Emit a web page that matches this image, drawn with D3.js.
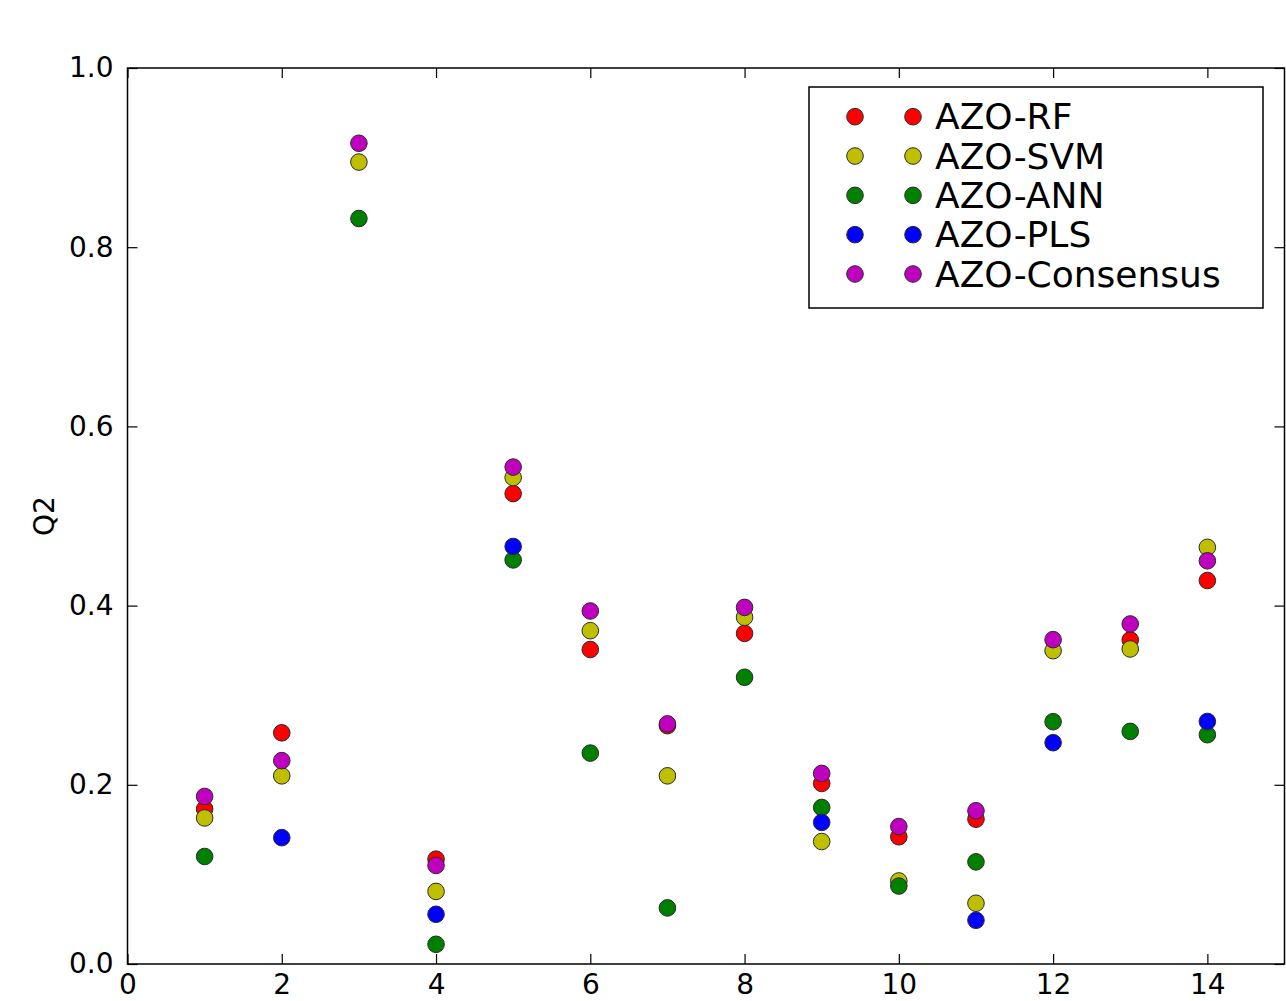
<!DOCTYPE html>
<html>
<head>
<meta charset="utf-8">
<script src="https://cdn.jsdelivr.net/npm/d3@7"></script>
<style>
  html, body { margin: 0; padding: 0; background: #fff; }
  svg { display: block; font-family: "DejaVu Sans", sans-serif; }
</style>
</head>
<body>
<svg id="chart" width="1286" height="1001"></svg>
<script>
const categories = [1, 2, 3, 4, 5, 6, 7, 8, 9, 10, 11, 12, 13, 14];
const seriesNames = ["AZO-RF", "AZO-SVM", "AZO-ANN", "AZO-PLS", "AZO-Consensus"];
const seriesColors = ["#ff0000", "#bfbf00", "#008000", "#0000ff", "#bf00bf"];
const rfValues   = [0.173, 0.258, null, 0.117, 0.525, 0.351, 0.266, 0.369, 0.2015, 0.142, 0.1616, null, 0.3617, 0.428];
const svmValues  = [0.163, 0.210, 0.895, 0.081, 0.543, 0.372, 0.210, 0.387, 0.1367, 0.0927, 0.0678, 0.3497, 0.3516, 0.465];
const annValues  = [0.120, null, 0.832, 0.022, 0.451, 0.2354, 0.0626, 0.320, 0.1747, 0.087, 0.114, 0.2704, 0.2596, 0.2559];
const plsValues  = [null, 0.141, null, 0.0555, 0.466, null, null, null, 0.158, null, 0.0488, 0.247, null, 0.2707];
const consValues = [0.187, 0.227, 0.916, 0.110, 0.5546, 0.394, 0.268, 0.398, 0.2127, 0.1534, 0.171, 0.362, 0.3795, 0.450];
const xTicks = [0, 2, 4, 6, 8, 10, 12, 14];
const yTicks = [0.0, 0.2, 0.4, 0.6, 0.8, 1.0];
const yLabel = "Q2";

(function () {
const allSeries = [rfValues, svmValues, annValues, plsValues, consValues];

const svg = d3.select("#chart");
const pLeft = 127.5, pRight = 1284.5, pTop = 68, pBottom = 964;

const x = d3.scaleLinear().domain([0, 15]).range([pLeft, pRight]);
const y = d3.scaleLinear().domain([0, 1]).range([pBottom, pTop]);

const tickLen = 10;
const fontSize = 28;

// Points
const gPts = svg.append("g");
allSeries.forEach((vals, si) => {
  const pts = categories.map((c, i) => ({x: c, y: vals[i]})).filter(d => d.y !== null);
  gPts.selectAll(null).data(pts).enter().append("circle")
    .attr("cx", d => x(d.x))
    .attr("cy", d => y(d.y))
    .attr("r", 8.3)
    .attr("fill", seriesColors[si])
    .attr("stroke", "#2a2a2a")
    .attr("stroke-width", 1);
});

// Axes (inside ticks, all four sides)
const axisBottom = d3.axisBottom(x).tickValues(xTicks).tickFormat(d3.format("d")).tickSize(-tickLen).tickPadding(10);
const axisTop = d3.axisTop(x).tickValues(xTicks).tickFormat("").tickSize(-tickLen);
const axisLeft = d3.axisLeft(y).tickValues(yTicks).tickFormat(d3.format(".1f")).tickSize(-tickLen).tickPadding(14);
const axisRight = d3.axisRight(y).tickValues(yTicks).tickFormat("").tickSize(-tickLen);

function style(g) {
  g.select(".domain").remove();
  g.selectAll(".tick line").attr("stroke", "#000").attr("stroke-width", 1.2);
  g.selectAll(".tick text").attr("fill", "#000").attr("font-size", fontSize).attr("font-family", "DejaVu Sans, sans-serif");
}
svg.append("g").attr("transform", `translate(0,${pBottom})`).call(axisBottom).call(style);
svg.append("g").attr("transform", `translate(0,${pTop})`).call(axisTop).call(style);
svg.append("g").attr("transform", `translate(${pLeft},0)`).call(axisLeft).call(style);
svg.append("g").attr("transform", `translate(${pRight},0)`).call(axisRight).call(style);

// Frame
svg.append("rect")
  .attr("x", pLeft).attr("y", pTop)
  .attr("width", pRight - pLeft).attr("height", pBottom - pTop)
  .attr("fill", "none").attr("stroke", "#000").attr("stroke-width", 1.5);

// Y label
svg.append("text")
  .attr("transform", `translate(54,516) rotate(-90)`)
  .attr("text-anchor", "middle")
  .attr("font-size", fontSize)
  .attr("fill", "#000")
  .text(yLabel);

// Legend
const lg = svg.append("g");
lg.append("rect")
  .attr("x", 809).attr("y", 87).attr("width", 454).attr("height", 221)
  .attr("fill", "#fff").attr("stroke", "#000").attr("stroke-width", 1.5);
const rowY = d3.scaleLinear().domain([0, 4]).range([116.7, 274]);
seriesNames.forEach((name, i) => {
  [855, 913].forEach(mx => {
    lg.append("circle").attr("cx", mx).attr("cy", rowY(i)).attr("r", 8.3)
      .attr("fill", seriesColors[i]).attr("stroke", "#2a2a2a").attr("stroke-width", 1);
  });
  lg.append("text").attr("x", 935).attr("y", rowY(i))
    .attr("dominant-baseline", "central")
    .attr("font-size", 36).attr("fill", "#000").text(name);
});
})();
</script>
</body>
</html>
